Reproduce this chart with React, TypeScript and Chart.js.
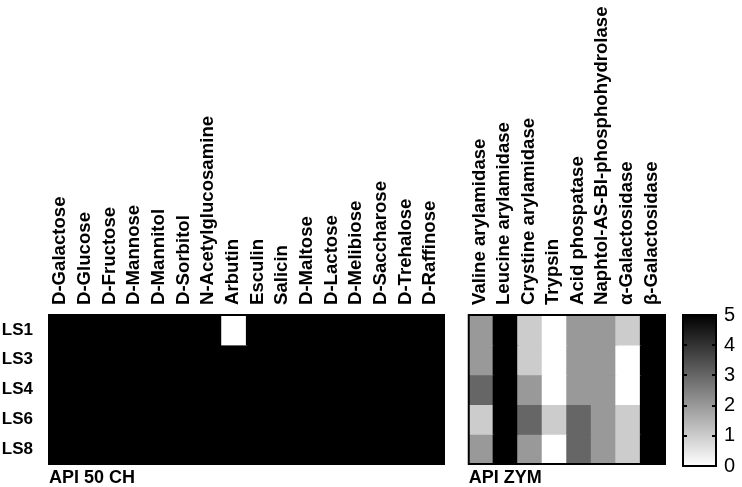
import React, { useEffect, useRef } from 'react';
import { Chart, registerables } from 'chart.js';

Chart.register(...registerables);

const strains = ['LS1', 'LS3', 'LS4', 'LS6', 'LS8'];

const chLabels = [
  'D-Galactose', 'D-Glucose', 'D-Fructose', 'D-Mannose', 'D-Mannitol', 'D-Sorbitol',
  'N-Acetylglucosamine', 'Arbutin', 'Esculin', 'Salicin', 'D-Maltose', 'D-Lactose',
  'D-Melibiose', 'D-Saccharose', 'D-Trehalose', 'D-Raffinose',
];
const chLS1 = [5, 5, 5, 5, 5, 5, 5, 0, 5, 5, 5, 5, 5, 5, 5, 5];
const chLS3 = [5, 5, 5, 5, 5, 5, 5, 5, 5, 5, 5, 5, 5, 5, 5, 5];
const chLS4 = [5, 5, 5, 5, 5, 5, 5, 5, 5, 5, 5, 5, 5, 5, 5, 5];
const chLS6 = [5, 5, 5, 5, 5, 5, 5, 5, 5, 5, 5, 5, 5, 5, 5, 5];
const chLS8 = [5, 5, 5, 5, 5, 5, 5, 5, 5, 5, 5, 5, 5, 5, 5, 5];

const zymLabels = [
  'Valine arylamidase', 'Leucine arylamidase', 'Crystine arylamidase', 'Trypsin',
  'Acid phospatase', 'Naphtol-AS-BI-phosphohydrolase', 'α-Galactosidase', 'β-Galactosidase',
];
const zymLS1 = [2, 5, 1, 0, 2, 2, 1, 5];
const zymLS3 = [2, 5, 1, 0, 2, 2, 0, 5];
const zymLS4 = [3, 5, 2, 0, 2, 2, 0, 5];
const zymLS6 = [1, 5, 3, 1, 3, 2, 1, 5];
const zymLS8 = [2, 5, 2, 0, 3, 2, 1, 5];

const scaleMin = 0;
const scaleMax = 5;
const scaleTicks = [0, 1, 2, 3, 4, 5];

const chTitle = 'API 50 CH';
const zymTitle = 'API ZYM';

const FONT = 'Liberation Sans, Arial, sans-serif';

const gray = (v: number) => {
  const g = Math.round(255 * (1 - (v - scaleMin) / (scaleMax - scaleMin)));
  return `rgb(${g},${g},${g})`;
};

const framePlugin = {
  id: 'frame',
  afterDatasetsDraw(chart: any) {
    const { ctx, chartArea } = chart;
    const { left, top, right, bottom } = chartArea;
    ctx.save();
    ctx.strokeStyle = '#000';
    ctx.lineWidth = 2;
    ctx.strokeRect(left, top, right - left, bottom - top);
    ctx.restore();
  },
};

const innerTicksPlugin = {
  id: 'innerTicks',
  afterDatasetsDraw(chart: any) {
    const { ctx, chartArea, scales } = chart;
    const y = scales.y;
    ctx.save();
    ctx.strokeStyle = '#000';
    ctx.lineWidth = 2;
    scaleTicks.forEach((t) => {
      if (t === scaleMin || t === scaleMax) return;
      const py = Math.round(y.getPixelForValue(t));
      ctx.beginPath();
      ctx.moveTo(chartArea.left, py);
      ctx.lineTo(chartArea.left + 4, py);
      ctx.moveTo(chartArea.right - 4, py);
      ctx.lineTo(chartArea.right, py);
      ctx.stroke();
    });
    ctx.restore();
  },
};

function heatmapConfig(labels: string[], rows: number[][], title: string, showRows: boolean, padLeft: number, padRight: number) {
  return {
    type: 'bar',
    data: {
      labels,
      datasets: strains.map((s, i) => ({
        label: s,
        data: labels.map(() => 1),
        backgroundColor: rows[i].map(gray),
        borderWidth: 0,
        inflateAmount: 0.6,
        categoryPercentage: 1,
        barPercentage: 1,
      })),
    },
    options: {
      animation: false,
      responsive: false,
      maintainAspectRatio: false,
      layout: { padding: { left: padLeft, right: padRight, top: 0, bottom: 0 } },
      plugins: { legend: { display: false }, tooltip: { enabled: false } },
      scales: {
        x: {
          position: 'top',
          stacked: true,
          grid: { display: false },
          border: { display: false },
          ticks: {
            minRotation: 90,
            maxRotation: 90,
            autoSkip: false,
            padding: 2,
            labelOffset: 21,
            color: '#000',
            font: { family: FONT, size: 18.6, weight: 'bold' },
          },
          afterFit: (s: any) => { s.height = 315; },
        },
        xb: {
          type: 'category',
          position: 'bottom',
          grid: { display: false },
          border: { display: false },
          ticks: { display: false },
          title: {
            display: true,
            text: title,
            align: 'start',
            color: '#000',
            padding: 0,
            font: { family: FONT, size: 18, weight: 'bold', lineHeight: 1 },
          },
          afterFit: (s: any) => { s.height = 23; },
        },
        y: {
          display: showRows,
          stacked: true,
          reverse: true,
          min: 0,
          max: strains.length,
          grid: { display: false },
          border: { display: false },
          afterBuildTicks: (s: any) => { s.ticks = strains.map((_, i) => ({ value: i + 0.5 })); },
          ticks: {
            autoSkip: false,
            padding: 8,
            color: '#000',
            font: { family: FONT, size: 17, weight: 'bold' },
            callback: (v: any) => strains[Math.floor(Number(v))],
          },
          afterFit: (s: any) => { s.width = showRows ? 49 : 0; },
        },
      },
    },
    plugins: [framePlugin],
  };
}

function colorbarConfig() {
  return {
    type: 'bar',
    data: {
      labels: [''],
      datasets: [{
        data: [[scaleMin, scaleMax]],
        backgroundColor: (c: any) => {
          const { chart } = c;
          const area = chart.chartArea;
          if (!area) return '#888';
          const g = chart.ctx.createLinearGradient(0, area.bottom, 0, area.top);
          g.addColorStop(0, gray(scaleMin));
          g.addColorStop(1, gray(scaleMax));
          return g;
        },
        borderWidth: 0,
        categoryPercentage: 1,
        barPercentage: 1,
      }],
    },
    options: {
      animation: false,
      responsive: false,
      maintainAspectRatio: false,
      layout: { padding: { left: 12, right: 0, top: 315, bottom: 21 } },
      plugins: { legend: { display: false }, tooltip: { enabled: false } },
      scales: {
        x: { display: false },
        y: {
          position: 'right',
          min: scaleMin,
          max: scaleMax,
          grid: { display: false },
          border: { display: false },
          afterBuildTicks: (s: any) => { s.ticks = scaleTicks.map((v) => ({ value: v })); },
          ticks: {
            padding: 0,
            color: '#000',
            font: { family: FONT, size: 20 },
          },
          afterFit: (s: any) => { s.width = 26; },
        },
      },
    },
    plugins: [innerTicksPlugin, framePlugin],
  };
}

function ChartCanvas({ config, left, width }: { config: () => any; left: number; width: number }) {
  const ref = useRef<HTMLCanvasElement | null>(null);
  useEffect(() => {
    if (!ref.current) return;
    const chart = new Chart(ref.current, config());
    return () => chart.destroy();
  }, []);
  return (
    <canvas
      ref={ref}
      width={width}
      height={487}
      style={{ position: 'absolute', left, top: 0, width, height: 487 }}
    />
  );
}

export default function App() {
  return (
    <div style={{ position: 'fixed', left: 0, top: 0, width: 742, height: 487, background: '#fff', overflow: 'hidden' }}>
      <ChartCanvas
        left={0}
        width={456}
        config={() => heatmapConfig(chLabels, [chLS1, chLS3, chLS4, chLS6, chLS8], chTitle, true, 0, 12)}
      />
      <ChartCanvas
        left={456}
        width={215}
        config={() => heatmapConfig(zymLabels, [zymLS1, zymLS3, zymLS4, zymLS6, zymLS8], zymTitle, false, 11, 6)}
      />
      <ChartCanvas left={671} width={71} config={colorbarConfig} />
    </div>
  );
}
